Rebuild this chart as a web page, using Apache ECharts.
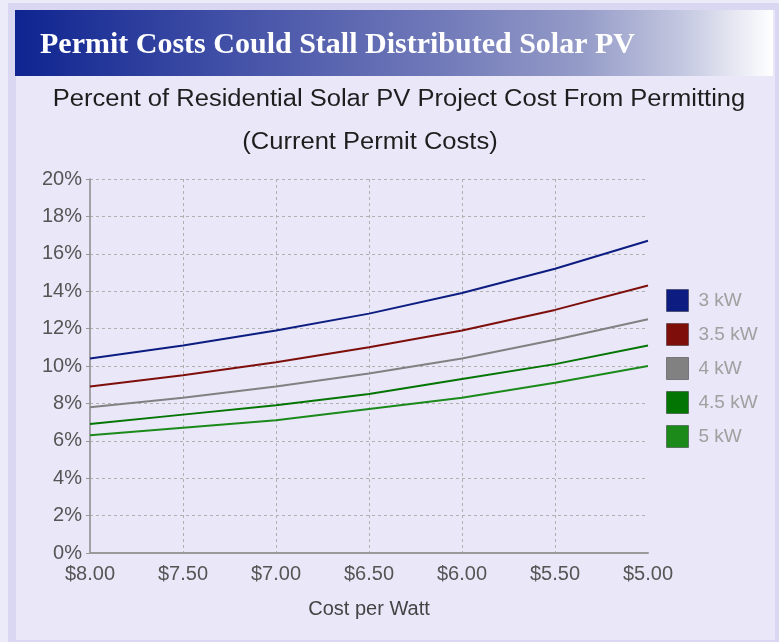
<!DOCTYPE html>
<html><head><meta charset="utf-8">
<script src="https://cdn.jsdelivr.net/npm/echarts@6/dist/echarts.min.js"></script>
<style>html,body{margin:0;padding:0;background:#e9e7f8}#chart{width:779px;height:642px}</style>
</head><body><div id="chart"></div>
<script>
// ---- data ----
const categories = ['$8.00', '$7.50', '$7.00', '$6.50', '$6.00', '$5.50', '$5.00'];
const seriesNames = ['3 kW', '3.5 kW', '4 kW', '4.5 kW', '5 kW'];
const kw3  = [10.4, 11.1, 11.9, 12.8, 13.9, 15.2, 16.7];
const kw35 = [8.9, 9.5, 10.2, 11.0, 11.9, 13.0, 14.3];
const kw4  = [7.8, 8.3, 8.9, 9.6, 10.4, 11.4, 12.5];
const kw45 = [6.9, 7.4, 7.9, 8.5, 9.3, 10.1, 11.1];
const kw5  = [6.3, 6.7, 7.1, 7.7, 8.3, 9.1, 10.0];
const yMin = 0, yMax = 20, yStep = 2;
const titleText = 'Permit Costs Could Stall Distributed Solar PV';
const subtitle1 = 'Percent of Residential Solar PV Project Cost From Permitting';
const subtitle2 = '(Current Permit Costs)';
const xName = 'Cost per Watt';

const seriesValues = [kw3, kw35, kw4, kw45, kw5];
const colors = ['#0c1c80', '#7d0e0a', '#818181', '#037503', '#1b8a1b'];

const chart = echarts.init(document.getElementById('chart'), null, {renderer: 'canvas'});
const FONT = '"Liberation Sans", Arial, sans-serif';

const option = {
  animation: false,
  backgroundColor: '#e9e7f8',
  graphic: [
    {type: 'rect', z: -10, shape: {x: 0, y: 0, width: 779, height: 3}, style: {fill: '#ecebf9'}},
    {type: 'rect', z: -10, shape: {x: 0, y: 0, width: 8, height: 642}, style: {fill: '#ecebf9'}},
    {type: 'rect', z: -10, shape: {x: 8, y: 3, width: 771, height: 7}, style: {fill: '#d9d7f2'}},
    {type: 'rect', z: -10, shape: {x: 8, y: 3, width: 8, height: 639}, style: {fill: '#d9d7f2'}},
    {type: 'rect', z: -10, shape: {x: 775, y: 3, width: 4, height: 639}, style: {fill: '#d9d7f2'}},
    {type: 'rect', z: -10, shape: {x: 8, y: 640, width: 771, height: 2}, style: {fill: '#d9d7f2'}},
    {type: 'rect', z: -5, shape: {x: 15, y: 10, width: 758, height: 66},
      style: {fill: new echarts.graphic.LinearGradient(0, 0, 1, 0, [
        {offset: 0, color: '#0e2490'},
        {offset: 0.3, color: '#4553a8'},
        {offset: 0.55, color: '#6f78b8'},
        {offset: 0.75, color: '#959cc8'},
        {offset: 0.88, color: '#c3c7e0'},
        {offset: 1, color: '#ffffff'}
      ])}},
    {type: 'text', x: 40, y: 45, style: {text: titleText, fill: '#ffffff',
      font: 'bold 30px "Liberation Serif", "Times New Roman", serif',
      textAlign: 'left', textVerticalAlign: 'middle'}},
    {type: 'text', x: 399, y: 100, scaleX: 1.11, style: {text: subtitle1, fill: '#1e1e1e',
      font: '23px ' + FONT, textAlign: 'center', textVerticalAlign: 'middle'}},
    {type: 'text', x: 370, y: 143, scaleX: 1.11, style: {text: subtitle2, fill: '#1e1e1e',
      font: '23px ' + FONT, textAlign: 'center', textVerticalAlign: 'middle'}}
  ],
  grid: {left: 90, right: 131, top: 179, bottom: 89, containLabel: false},
  legend: {
    orient: 'vertical', left: 666, top: 289, padding: 0,
    itemWidth: 22, itemHeight: 22, itemGap: 11,
    icon: 'rect', data: seriesNames,
    itemStyle: {borderColor: 'rgba(0,0,0,0.35)', borderWidth: 1},
    textStyle: {color: '#a0a0a0', fontSize: 19, fontFamily: FONT, padding: [0, 0, 0, 5]}
  },
  xAxis: {
    type: 'category', boundaryGap: false, data: categories,
    name: xName, nameLocation: 'middle', nameGap: 46,
    nameTextStyle: {fontSize: 20, color: '#444', fontFamily: FONT},
    axisLine: {lineStyle: {color: '#9a9a9a', width: 2}},
    axisTick: {show: false},
    axisLabel: {color: '#555', fontSize: 20, fontFamily: FONT, margin: 11, interval: 0},
    splitLine: {show: true, showMinLine: false, showMaxLine: false,
      lineStyle: {color: '#b0b0b0', type: [3, 3], width: 1}}
  },
  yAxis: {
    type: 'value', min: yMin, max: yMax, interval: yStep,
    axisLine: {show: true, lineStyle: {color: '#8a8a8a', width: 1.5}},
    axisTick: {show: true, length: 4, lineStyle: {color: '#999'}},
    axisLabel: {formatter: '{value}%', color: '#555', fontSize: 20, fontFamily: FONT, margin: 8},
    splitLine: {show: true, showMinLine: false, showMaxLine: true,
      lineStyle: {color: '#b0b0b0', type: [3, 3], width: 1}}
  },
  series: seriesNames.map((n, i) => ({
    name: n, type: 'line', data: seriesValues[i], symbol: 'none',
    itemStyle: {color: colors[i]},
    lineStyle: {color: colors[i], width: 2}
  }))
};
chart.setOption(option);
</script></body></html>
